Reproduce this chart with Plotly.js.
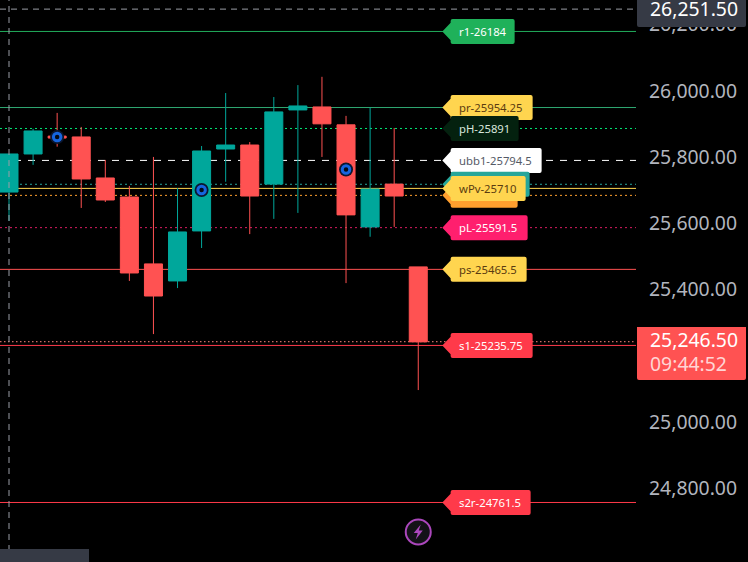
<!DOCTYPE html>
<html><head><meta charset="utf-8">
<script src="https://cdn.plot.ly/plotly-3.0.1.min.js"></script>
<style>html,body{margin:0;padding:0;background:#000}</style></head>
<body><div id="chart" style="width:748px;height:562px"></div>
<script>
const idx   = [0,1,2,3,4,5,6,7,8,9,10,11,12,13,14,15,16,17];
const open  = [25699,25814,25868,25865.4,25741.5,25684,25482,25430.5,25581.5,25829,25841,25723,25947,25956,25902,25593.6,25723,25473];
const close = [25814,25883.5,25862,25738.5,25675,25454.6,25385,25578.5,25823,25841,25687,25941,25959,25905,25630,25708,25687,25246.5];
const high  = [25814,25890,25938,25895.6,25796,25717.4,25805,25711,25838,25998,25850,25986,26022,26047,25929,25954,25892.6,25473];
const low   = [25612,25781,25836,25651,25669,25430.5,25270,25409,25530,25730,25572,25618,25636,25805,25424,25564,25593.6,25101];

const markerIdx = [2,8,14];
const markerVal = [25865,25705,25767];

const lineVal   = [26184,25954.25,25891,25794.5,25722.5,25710,25689,25591.5,25465.5,25247,25235.75,24761.5];
const lineColor = ['#22ab5b','#2fa872','#00e676','#ffffff','#26a69a','#ffd54f','#ff9f2e','#d81b60','#ff5252','#ff8a80','#ff3a4a','#ff3a4a'];
const lineDash  = ['solid','solid','2px,3px','7px,7px','2px,3px','solid','2px,3px','2px,3px','solid','1.5px,2.5px','solid','solid'];

const tagVal   = [26184,25954.25,25891,25794.5,25722.5,25689,25710,25591.5,25465.5,25235.75,24761.5];
const tagText  = ['r1-26184','pr-25954.25','pH-25891','ubb1-25794.5','','','wPv-25710','pL-25591.5','ps-25465.5','s1-25235.75','s2r-24761.5'];
const tagWidth = [64,82,68,91,79,67,75,77,76,82,80];
const tagFill  = ['#1fb15a','#ffd54f','#04210f','#ffffff','#26a69a','#ff9f2e','#ffd54f','#ff1f6e','#ffd54f','#ff3a4a','#ff3a4a'];
const tagInk   = ['#ffffff','#5a3b10','#d8e6dc','#555a66','#ffffff','#ffffff','#5a3b10','#ffffff','#5a3b10','#ffffff','#ffffff'];

const axisTicks = [26200,26000,25800,25600,25400,25200,25000,24800];
const crossPrice = 26251.5, lastPrice = 25246.5, lastTimer = '09:44:52';
const yRange = [24581.7,26279], labelOffset = 4.5;

const TAG_AT = 18, UP='#00a79b', DOWN='#ff5252', FONT='"Noto Sans", sans-serif';
function fmt(v){return v.toLocaleString('en-US',{minimumFractionDigits:2,maximumFractionDigits:2});}
function tagPath(w){const h=12.5,r=2,n=8.3,t=8.8;
 return `M0,0 L${n},${t} L${n},${h-r} Q${n},${h} ${n+r},${h} L${w+n-r},${h} Q${w+n},${h} ${w+n},${h-r} L${w+n},${-h+r} Q${w+n},${-h} ${w+n-r},${-h} L${n+r},${-h} Q${n},${-h} ${n},${-h+r} L${n},${-t} Z`;}

const shapes=[], annotations=[];
lineVal.forEach((v,i)=>shapes.push({type:'line',layer:'below',xref:'paper',x0:0,x1:1,yref:'y',y0:v,y1:v,line:{color:lineColor[i],width:1,dash:lineDash[i]}}));
shapes.push({type:'line',layer:'above',xref:'x',x0:0,x1:0,yref:'paper',y0:0,y1:1,line:{color:'#9a9da6',width:1,dash:'6px,5px'}});
shapes.push({type:'line',layer:'above',xref:'paper',x0:0,x1:1,yref:'y',y0:crossPrice,y1:crossPrice,line:{color:'#9a9da6',width:1,dash:'6px,5px'}});
tagVal.forEach((v,i)=>{
 shapes.push({type:'path',layer:'above',xref:'x',yref:'y',xsizemode:'pixel',ysizemode:'pixel',xanchor:TAG_AT,yanchor:v,path:tagPath(tagWidth[i]),fillcolor:tagFill[i],line:{width:0}});
 if(tagText[i]) annotations.push({xref:'x',yref:'y',x:TAG_AT,y:v,xanchor:'left',xshift:14.5,text:tagText[i],showarrow:false,font:{family:FONT,size:11.3,color:tagInk[i]}});
});
function box(yanchor,up,down,fill){const w=110,r=2;return {type:'path',layer:'above',xref:'paper',yref:'y',xsizemode:'pixel',ysizemode:'pixel',xanchor:1,yanchor:yanchor,
 path:`M1,${up} L${w},${up} L${w},${-down+r} Q${w},${-down} ${w-r},${-down} L${1+r},${-down} Q1,${-down} 1,${-down+r} Z`,fillcolor:fill,line:{width:0}};}
shapes.push(box(crossPrice,10,18,'#363a45'));
shapes.push(box(lastPrice,15,38,'#ff5252'));
annotations.push({xref:'paper',yref:'y',x:1,y:crossPrice,xanchor:'left',xshift:12,yshift:1,text:fmt(crossPrice),showarrow:false,font:{family:FONT,size:19.4,color:'#ffffff'}});
annotations.push({xref:'paper',yref:'y',x:1,y:lastPrice,xanchor:'left',xshift:12,yshift:2,text:fmt(lastPrice),showarrow:false,font:{family:FONT,size:19.4,color:'#ffffff'}});
annotations.push({xref:'paper',yref:'y',x:1,y:lastPrice,xanchor:'left',xshift:12,yshift:-22,text:lastTimer,showarrow:false,font:{family:FONT,size:19.4,color:'#ffd5d5'}});
shapes.push({type:'path',layer:'above',xref:'paper',yref:'paper',xsizemode:'pixel',ysizemode:'pixel',xanchor:0,yanchor:0,path:'M0,0 L89,0 L89,13 L0,13 Z',fillcolor:'#363a45',line:{width:0}});
shapes.push({type:'circle',layer:'above',xref:'x',yref:'paper',xsizemode:'pixel',ysizemode:'pixel',xanchor:17,yanchor:0.0534,x0:-12.5,x1:12.5,y0:-12.5,y1:12.5,fillcolor:'#131217',line:{color:'#ab47bc',width:2}});
shapes.push({type:'path',layer:'above',xref:'x',yref:'paper',xsizemode:'pixel',ysizemode:'pixel',xanchor:17,yanchor:0.0534,path:'M2.5,7.5 L-4.5,-1 L-0.5,-1 L-2.5,-7.5 L4.5,1.5 L0.5,1.5 Z',fillcolor:'#ab47bc',line:{width:0}});

const traces=[
 {type:'candlestick',x:idx,open,high,low,close,whiskerwidth:0,hoverinfo:'skip',
  increasing:{line:{color:UP,width:1},fillcolor:UP},decreasing:{line:{color:DOWN,width:1},fillcolor:DOWN}},
 {type:'scatter',mode:'markers',x:markerIdx,y:markerVal,hoverinfo:'skip',marker:{symbol:'circle',size:14,color:'#0b1730',line:{width:0}}},
 {type:'scatter',mode:'markers',x:markerIdx,y:markerVal,hoverinfo:'skip',marker:{symbol:'circle',size:7.5,color:'#050a14',line:{color:'#1565e0',width:3}}},
 {type:'scatter',mode:'none',x:idx,y:close,yaxis:'y2',hoverinfo:'skip'}
];
const layout={width:748,height:562,margin:{l:0,r:112,t:0,b:0,pad:0},paper_bgcolor:'#000',plot_bgcolor:'#000',showlegend:false,boxgap:0.2,boxgroupgap:0.065,
 xaxis:{range:[-0.374,26.045],showgrid:false,zeroline:false,showticklabels:false,ticks:'',showline:false,rangeslider:{visible:false},type:'linear'},
 yaxis:{range:yRange,showgrid:false,zeroline:false,showline:false,showticklabels:false,ticks:''},
 yaxis2:{overlaying:'y',side:'right',range:[yRange[0]-labelOffset,yRange[1]-labelOffset],showgrid:false,zeroline:false,showline:false,tickmode:'array',tickvals:axisTicks,ticktext:axisTicks.map(fmt),ticks:'',ticklabelstandoff:12,tickfont:{family:FONT,size:19.4,color:'#b2b5be'}},
 shapes,annotations};
Plotly.newPlot('chart',traces,layout,{displayModeBar:false,staticPlot:true});
</script></body></html>
